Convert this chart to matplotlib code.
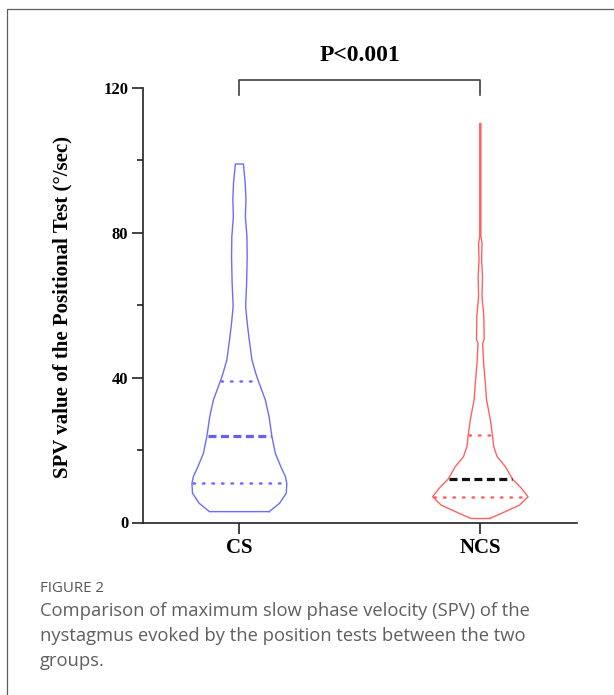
import numpy as np
import matplotlib
matplotlib.use('Agg')
import matplotlib.pyplot as plt
from matplotlib.lines import Line2D

# groups and summary values (deg/sec)
groups = ['CS', 'NCS']
quartiles = {
    'CS': [10.8, 23.9, 39.0],
    'NCS': [7.1, 12.0, 24.2],
}

# violin outlines: SPV level and relative density (1 = widest)
cs_level = [3.0, 5.3, 8.1, 10.8, 12.7, 15.4, 19.1, 23.9, 29.3, 33.9, 39.0, 41.3,
            44.9, 50.5, 55.1, 59.7, 66.1, 73.5, 79.0, 84.5, 89.2, 93.8, 99.0]
cs_density = [0.625, 0.842, 0.983, 0.994, 0.964, 0.869, 0.754, 0.680, 0.621, 0.543,
              0.400, 0.341, 0.263, 0.206, 0.164, 0.131, 0.152, 0.164, 0.158, 0.126,
              0.137, 0.122, 0.084]

ncs_level = [1.1, 2.5, 4.8, 7.1, 9.5, 12.0, 15.4, 18.2, 21.0, 24.2, 28.3, 33.9,
             38.5, 44.0, 49.5, 50.5, 56.9, 62.4, 67.9, 72.6, 77.2, 79.0, 110.2]
ncs_density = [0.194, 0.438, 0.821, 1.000, 0.859, 0.674, 0.526, 0.352, 0.280, 0.253,
               0.211, 0.130, 0.105, 0.069, 0.048, 0.080, 0.074, 0.036, 0.046, 0.027,
               0.036, 0.012, 0.012]

profiles = {'CS': (cs_level, cs_density), 'NCS': (ncs_level, ncs_density)}
colors = {'CS': '#6b6bff', 'NCS': '#ff6161'}
median_colors = {'CS': '#6060f4', 'NCS': '#111111'}

serif = ['Liberation Serif', 'DejaVu Serif']
sans = ['Open Sans', 'DejaVu Sans']

fig = plt.figure(figsize=(6.14, 6.95), dpi=100)
W, H = 614, 695
ax = fig.add_axes([143 / W, 1 - 522.5 / H, (576.7 - 143) / W, (522.5 - 88) / H])

half_max = 0.198
for i, g in enumerate(groups):
    lev = np.array(profiles[g][0])
    wid = np.array(profiles[g][1]) * half_max
    xs = np.concatenate([i + wid, (i - wid)[::-1], [i + wid[0]]])
    ys = np.concatenate([lev, lev[::-1], [lev[0]]])
    ax.plot(xs, ys, color=colors[g], lw=1.0, solid_joinstyle='round')
    q1, med, q3 = quartiles[g]
    for q, style in [(q1, 'dot'), (q3, 'dot'), (med, 'dash')]:
        w = np.interp(q, lev, wid) * 0.97
        if style == 'dot':
            ax.plot([i - w, i + w], [q, q], color=colors[g], lw=1.8,
                    linestyle=(0, (0.6, 3.2)), dash_capstyle='round')
        else:
            ax.plot([i - w, i + w], [q, q], color=median_colors[g], lw=2.3,
                    linestyle=(0, (2.5, 1.4)))

ax.set_xlim(-0.4, 1.4)
ax.set_ylim(0, 120)
for s in ['top', 'right']:
    ax.spines[s].set_visible(False)
for s in ['left', 'bottom']:
    ax.spines[s].set_linewidth(1.2)
    ax.spines[s].set_color('#222222')

ax.set_yticks([0, 40, 80, 120])
ax.set_yticks([20, 60, 100], minor=True)
ax.set_xticks([0, 1])
ax.set_xticklabels(groups)
ax.tick_params(axis='y', which='major', length=8, width=1.2, pad=2.5, color='#222222')
ax.tick_params(axis='y', which='minor', length=4, width=1.2, color='#222222')
ax.tick_params(axis='x', length=8, width=1.2, pad=3.5, color='#222222')
for lab in ax.get_yticklabels():
    lab.set_fontfamily(serif)
    lab.set_fontweight('bold')
    lab.set_fontsize(12)
for lab in ax.get_xticklabels():
    lab.set_fontfamily(serif)
    lab.set_fontweight('bold')
    lab.set_fontsize(15)

fig.text(62 / W, 0.5577, 'SPV value of the Positional Test (°/sec)', rotation=90,
         ha='center', va='center', family=serif, fontweight='bold', fontsize=15)

# significance bracket
ax.plot([0, 0, 1, 1], [118.2, 122.1, 122.1, 118.2], color='#404040', lw=1.2,
        clip_on=False)
ax.text(0.5, 127.4, 'P<0.001', ha='center', va='baseline', family=serif,
        fontweight='bold', fontsize=17, clip_on=False)

# frame of the figure panel
fig.add_artist(Line2D([7.3 / W, 7.3 / W, 1.0], [0.0, 1 - 9 / H, 1 - 9 / H],
                      transform=fig.transFigure, color='#5e5e5e', lw=0.9))

fig.text(40 / W, 1 - 588 / H, 'FIGURE 2', ha='left', va='center', family=sans,
         fontsize=10.8, color='#555555')
caption = ['Comparison of maximum slow phase velocity (SPV) of the',
           'nystagmus evoked by the position tests between the two',
           'groups.']
for k, line in enumerate(caption):
    fig.text(40 / W, 1 - (611 + 25 * k) / H, line, ha='left', va='center',
             family=sans, fontsize=13.2, color='#5f5f5f')

fig.savefig('out.png', dpi=100)
